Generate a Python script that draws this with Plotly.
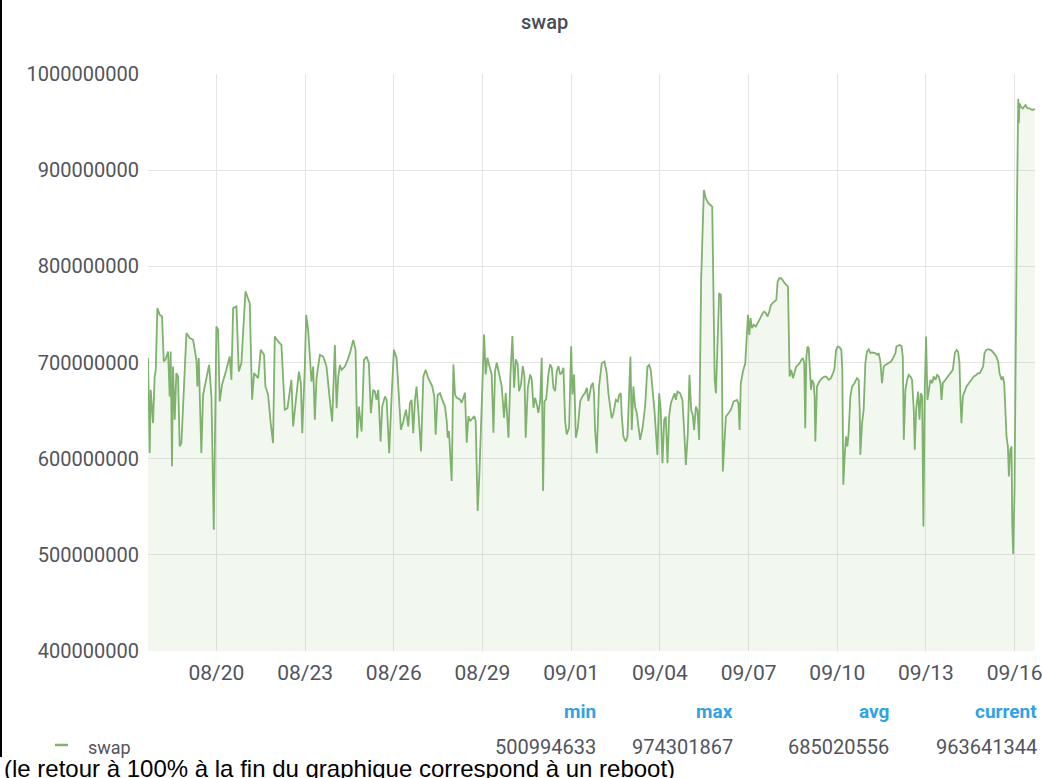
import pandas as pd
import numpy as np
import plotly.graph_objects as go

# ---- data ----
start_time = "2019-08-17 16:30"
end_time = "2019-09-16 16:30"

# hours since start_time
hours = [
    0.0, 1.4, 2.2, 4.1, 5.4, 6.3, 7.6, 9.5, 11.4, 12.8, 14.1, 16.3, 17.6, 18.4, 19.5, 20.3, 21.7, 23.0,
    24.4, 25.7, 27.1, 28.4, 31.2, 33.9, 36.6, 39.3, 40.1, 41.2, 43.3, 44.7, 47.4, 49.6, 51.5, 53.4,
    55.5, 56.9, 58.2, 60.1, 63.6, 66.3, 67.7, 69.1, 71.8, 73.7, 75.8, 79.1, 82.6, 84.5, 86.1, 89.4,
    91.5, 94.2, 95.3, 97.5, 99.6, 101.5, 102.9, 105.6, 108.3, 111.0, 113.2, 116.4, 117.8,
    120.6, 122.5, 124.1, 125.2, 127.3, 128.4, 130.0, 131.4, 132.7, 134.1, 135.4, 136.8, 139.5, 142.2,
    144.9, 147.6, 149.5, 151.7, 153.1, 154.4, 155.8, 157.1, 159.8, 162.0, 163.9, 166.6, 168.5, 169.8,
    171.2, 173.4, 175.3, 177.4, 179.3, 180.9, 182.8, 184.2, 185.5, 186.9, 188.8, 190.1, 192.3, 193.7,
    195.8, 197.7, 199.6, 201.8, 203.7, 205.3, 207.2, 209.4, 211.3, 212.6, 214.0, 215.3, 216.7, 218.0,
    219.4, 221.6, 223.5, 225.4, 227.5, 228.9, 230.8, 232.4, 233.5, 235.1, 237.0, 238.9, 241.1,
    242.5, 243.3, 244.3, 246.5, 247.9, 249.2, 250.6, 253.3, 254.6, 256.0, 257.3, 258.7, 260.1, 261.4,
    262.8, 264.9, 266.0, 267.6, 269.0, 270.9, 272.8, 274.1, 275.5, 276.8, 279.0, 280.4, 281.7, 283.1,
    285.0, 287.1, 289.0, 290.4, 292.6, 294.2, 295.8, 297.2, 298.5, 300.1, 301.2, 302.8, 304.2, 305.6,
    306.6, 308.3, 310.2, 311.5, 312.9, 314.2, 315.6, 316.9, 318.3, 319.6, 320.7, 321.8, 323.2, 325.0,
    326.4, 327.8, 329.1, 330.5, 331.8, 333.2, 334.5, 335.9, 337.2, 338.6, 339.9, 341.8, 343.5, 344.5,
    345.9, 347.3, 348.9, 350.8, 352.7, 354.8, 356.2, 357.5, 359.7, 361.1, 362.0,
    362.9, 364.3, 366.1, 368.3, 370.5, 372.4, 373.7, 376.4, 377.8, 379.7, 381.3, 382.4, 383.8, 384.6,
    385.9, 387.8, 389.2, 390.5, 391.6, 392.7, 394.0, 395.4, 396.8, 398.1, 399.5, 401.6, 403.5, 405.4,
    406.8, 408.1, 409.5, 411.1, 413.5, 414.9, 416.2, 417.6, 419.0, 420.3, 421.7, 423.0, 424.4, 426.0,
    427.4, 428.4, 429.8, 431.9, 433.8, 435.2, 436.6, 438.2, 439.5, 440.9, 442.2, 443.3, 444.7, 446.0,
    447.4, 449.0, 450.1, 451.2, 452.8, 455.0, 458.0, 459.0, 460.0, 461.0, 462.3, 463.6, 465.0, 465.8,
    466.6, 467.7, 469.1, 471.2, 473.1, 475.3, 478.0, 479.3, 480.2, 481.2, 482.9, 484.8,
    486.2, 487.0, 488.1, 489.1, 490.2, 491.6, 493.5, 495.1, 497.0, 498.9, 500.2, 501.6, 502.9, 504.3,
    505.7, 507.0, 508.6, 510.0, 511.1, 512.4, 513.8, 515.1, 516.8, 518.1, 519.5, 520.8, 522.2, 523.5,
    524.9, 526.2, 527.6, 528.9, 530.3, 531.6, 532.7, 533.5, 534.4, 535.4, 536.3, 537.1, 538.2, 539.0,
    540.3, 541.1, 541.7, 543.0, 544.9, 547.1, 549.0, 550.6, 552.5, 554.4, 555.7, 557.1, 558.5, 559.8,
    561.4, 562.8, 563.6, 564.4, 565.5, 566.6, 567.7, 568.7, 570.1, 571.5, 573.4, 575.5, 576.9, 577.7,
    578.2, 579.6, 580.9, 582.3, 583.6, 585.0, 586.4, 587.7, 590.4, 591.8, 593.1, 594.5, 595.8, 597.2,
    598.5, 601.2, 603.1, 604.8, 606.7,
    607.5, 609.9, 611.6, 612.7, 613.5, 614.8, 616.2, 617.5, 618.9, 620.2, 621.6, 622.4, 623.5, 625.1,
    626.2, 627.3, 628.4, 629.4, 630.5, 631.6, 632.7, 633.8, 635.1, 636.5, 637.8, 639.2, 640.6, 641.9,
    643.3, 644.1, 645.2, 647.3, 649.5, 651.4, 653.3, 654.9, 656.3, 657.6, 658.7, 659.5, 660.3, 661.4,
    663.0, 664.4, 666.3, 668.4, 670.3, 672.2, 673.9, 675.2, 676.6, 677.9, 679.0, 680.4, 682.5, 684.7,
    686.6, 688.5, 690.1, 691.2, 692.8, 693.9, 695.0, 696.1, 696.9, 698.0, 698.8, 699.9, 701.0, 701.5,
    702.3, 703.4, 704.5, 705.5, 706.4, 706.9, 707.4, 708.5, 710.1, 712.3, 713.9, 715.6, 717.7, 719.9,
]

# swap usage in millions of bytes
swap_millions = [
    704.6, 605.8, 671.7, 637.0, 685.5, 692.4, 756.5, 749.6, 747.9, 701.1, 702.8, 711.5, 664.7, 711.5, 592.0, 695.9, 640.5, 689.0,
    685.5, 612.8, 616.2, 654.3, 730.6, 725.4, 723.6, 702.8, 675.1, 704.6, 605.8, 666.5, 682.0, 697.6, 664.7, 526.1,
    737.5, 734.0, 659.5, 676.9, 692.4, 706.3, 682.0, 756.5, 758.3, 690.7, 699.4, 773.9, 761.7, 661.3, 689.0, 683.8,
    713.2, 708.0, 675.1, 666.5, 637.0, 616.2, 727.1, 721.9, 718.4, 650.9, 652.6, 682.0, 633.5,
    664.6, 690.6, 678.5, 626.5, 695.8, 749.5, 733.9, 702.7, 680.2, 695.8, 640.4, 683.7, 707.9, 706.2,
    695.8, 661.2, 638.6, 718.3, 652.5, 685.4, 697.5, 692.3, 695.8, 702.7, 709.7, 723.5, 713.1, 621.3,
    654.2, 628.2, 702.7, 706.2, 699.3, 647.3, 671.5, 669.8, 661.2, 671.5, 617.8, 654.2, 664.6, 661.2,
    605.7, 664.6, 713.1, 704.5, 657.7, 630.0, 638.6, 650.8, 633.4, 657.7, 661.2, 626.5, 661.2, 675.0,
    650.8, 607.4, 685.4, 692.3, 683.7, 680.2, 675.0, 664.6, 624.8, 666.3, 668.1, 661.2, 654.2,
    639.1, 621.7, 628.7, 576.7, 698.0, 666.8, 663.3, 661.6, 658.1, 665.0, 668.5, 616.5, 644.2, 639.1,
    640.8, 644.2, 639.1, 545.5, 583.6, 656.4, 729.1, 687.6, 704.9, 698.0, 687.6, 626.9, 691.0, 699.7,
    687.6, 675.4, 642.5, 668.5, 621.7, 687.6, 727.4, 673.7, 703.2, 698.0, 670.2, 677.2, 696.2, 685.8,
    621.7, 673.7, 687.6, 682.4, 652.9, 663.3, 656.4, 647.7, 659.8, 704.9, 566.3, 659.8, 661.6, 687.6,
    698.0, 694.5, 673.7, 670.2, 691.0, 696.2, 687.6, 689.3, 694.5, 639.1, 625.2, 632.1, 717.0, 666.8,
    687.6, 621.7, 632.1, 659.8, 665.0, 668.5, 673.7, 659.8, 675.4, 678.9, 668.5,
    630.0, 605.7, 675.0, 699.2, 701.0, 688.8, 668.0, 642.1, 647.3, 661.1, 659.4, 666.3, 668.0, 643.8,
    623.0, 617.8, 623.0, 668.0, 706.2, 629.9, 675.0, 654.2, 647.3, 633.4, 619.5, 633.4, 654.2, 695.8,
    697.5, 692.3, 675.0, 650.7, 603.9, 668.0, 650.7, 595.3, 640.3, 643.8, 595.3, 643.8, 657.6, 662.8,
    668.0, 661.1, 669.8, 668.0, 661.1, 629.9, 593.5, 626.5, 687.1, 650.7, 645.5, 629.9, 654.2, 650.7,
    619.5, 785.9, 848.2, 879.4, 870.7, 865.5, 862.1, 751.2, 681.9, 668.0, 716.5, 772.0, 770.3, 709.6,
    586.6, 619.5, 643.8, 647.3, 650.7, 659.4, 661.1, 657.6, 629.9, 678.4, 690.6, 699.2,
    727.0, 749.5, 728.7, 746.1, 735.7, 739.1, 737.4, 740.9, 746.1, 751.3, 753.0, 751.3, 747.8, 753.0,
    759.9, 761.7, 763.4, 765.1, 784.2, 787.6, 787.6, 785.9, 782.4, 780.7, 779.0, 685.4, 692.3, 683.7,
    688.9, 695.8, 697.5, 699.3, 702.7, 704.5, 699.3, 631.7, 706.2, 716.6, 714.9, 699.3, 671.6, 682.0,
    678.5, 664.6, 617.9, 675.0, 680.2, 683.7, 685.4, 685.4, 682.0, 683.7, 688.9, 692.3, 713.1, 716.6,
    715.9, 713.1, 692.3, 572.8, 602.3, 623.1, 612.7, 626.5, 664.6, 675.0, 678.5, 683.7, 682.0, 650.8,
    604.0, 636.9, 650.8, 699.3, 711.4, 713.8, 709.7, 710.4, 709.7, 708.0, 709.7, 701.0, 678.5, 695.8,
    697.5, 699.3, 701.0, 704.5, 709.7,
    716.6, 718.3, 717.3, 706.2, 619.6, 671.5, 682.0, 687.1, 685.4, 682.0, 650.8, 609.2, 650.8, 669.8,
    640.4, 668.1, 664.6, 529.5, 671.5, 727.0, 661.1, 671.5, 682.0, 678.5, 685.4, 682.0, 687.1, 685.4,
    678.5, 661.1, 678.5, 682.0, 685.4, 688.9, 692.3, 709.7, 713.1, 711.4, 699.3, 661.1, 636.9, 664.6,
    671.5, 675.0, 678.5, 682.0, 685.4, 687.1, 688.9, 688.9, 692.3, 695.8, 709.7, 713.1, 713.8, 712.4,
    709.7, 706.2, 701.0, 688.9, 682.0, 685.4, 678.5, 650.8, 623.0, 612.6, 581.5, 609.2, 612.6, 533.0,
    501.0, 567.6, 775.5, 879.5, 974.3, 948.7, 969.5, 966.1, 964.3, 967.8, 964.3, 964.3, 962.6, 963.6,
]

series_name = "swap"
stat_headers = ["min", "max", "avg", "current"]
stat_values = ["500994633", "974301867", "685020556", "963641344"]
caption = "(le retour à 100% à la fin du graphique correspond à un reboot)"

# ---- figure ----
times = pd.Timestamp(start_time) + pd.to_timedelta(hours, unit="h")
values = np.array(swap_millions) * 1e6

W, H = 1043, 778
L, R, T, B = 148, 1035, 74, 651
PW, PH = R - L, B - T


def xp(px):
    return (px - L) / PW


def yp(py):
    return (B - py) / PH


GREEN = "#7EB26D"
TEXT = "#52545c"
BLUE = "#33a2e5"
GRID = "#e4e4e4"

fig = go.Figure()
fig.add_trace(go.Scatter(
    x=times, y=values, mode="lines", name=series_name,
    line=dict(color=GREEN, width=1.8),
    fill="tozeroy", fillcolor="rgba(126,178,109,0.1)",
    showlegend=False,
))

fig.update_layout(
    width=W, height=H,
    margin=dict(l=L, r=W - R, t=T, b=H - B, pad=0, autoexpand=False),
    paper_bgcolor="white", plot_bgcolor="white",
    font=dict(family="Roboto", color=TEXT),
    xaxis=dict(
        type="date", range=[start_time, end_time], automargin=False,
        tick0="2019-08-20", dtick=3 * 86400000, tickformat="%m/%d",
        showgrid=True, gridcolor=GRID, gridwidth=1,
        zeroline=False, showline=False, ticks="",
        tickfont=dict(size=21, color=TEXT, family="Roboto"),
        ticklabelstandoff=7,
    ),
    yaxis=dict(
        range=[400e6, 1000e6], dtick=100e6, tickformat=".0f", automargin=False,
        showgrid=True, gridcolor=GRID, gridwidth=1,
        zeroline=False, showline=False, ticks="",
        tickfont=dict(size=20, color=TEXT, family="Roboto"),
        ticklabelstandoff=8,
    ),
)

annotations = [
    dict(text="swap", x=xp(544), y=yp(22), xref="paper", yref="paper",
         xanchor="center", yanchor="middle", showarrow=False,
         font=dict(size=20, color="#464c54", family="Roboto", weight=500)),
    dict(text=series_name, x=xp(86), y=yp(747), xref="paper", yref="paper",
         xanchor="left", yanchor="middle", showarrow=False,
         font=dict(size=18, color=TEXT, family="Roboto")),
]
header_right = [598, 735, 891, 1039]
for hx, head, val in zip(header_right, stat_headers, stat_values):
    annotations.append(dict(text=head, x=xp(hx), y=yp(711), xref="paper", yref="paper",
                            xanchor="right", yanchor="middle", showarrow=False,
                            font=dict(size=19, color=BLUE, family="Roboto", weight="bold")))
    annotations.append(dict(text=val, x=xp(hx), y=yp(747), xref="paper", yref="paper",
                            xanchor="right", yanchor="middle", showarrow=False,
                            font=dict(size=20, color=TEXT, family="Roboto")))
annotations.append(dict(text=caption, x=xp(2), y=yp(768), xref="paper", yref="paper",
                        xanchor="left", yanchor="middle", showarrow=False,
                        font=dict(size=24, color="black", family="Liberation Sans")))
fig.update_layout(annotations=annotations)

fig.update_layout(shapes=[
    dict(type="line", xref="paper", yref="paper", x0=xp(55), x1=xp(68), y0=yp(745), y1=yp(745),
         line=dict(color=GREEN, width=2.5)),
    dict(type="line", xref="paper", yref="paper", x0=xp(1), x1=xp(1), y0=yp(0), y1=yp(757),
         line=dict(color="black", width=2)),
])

fig.write_html(
    "out.html",
    config={"displayModeBar": False},
    post_script="document.body.style.margin='0';document.body.style.overflow='hidden';",
)
